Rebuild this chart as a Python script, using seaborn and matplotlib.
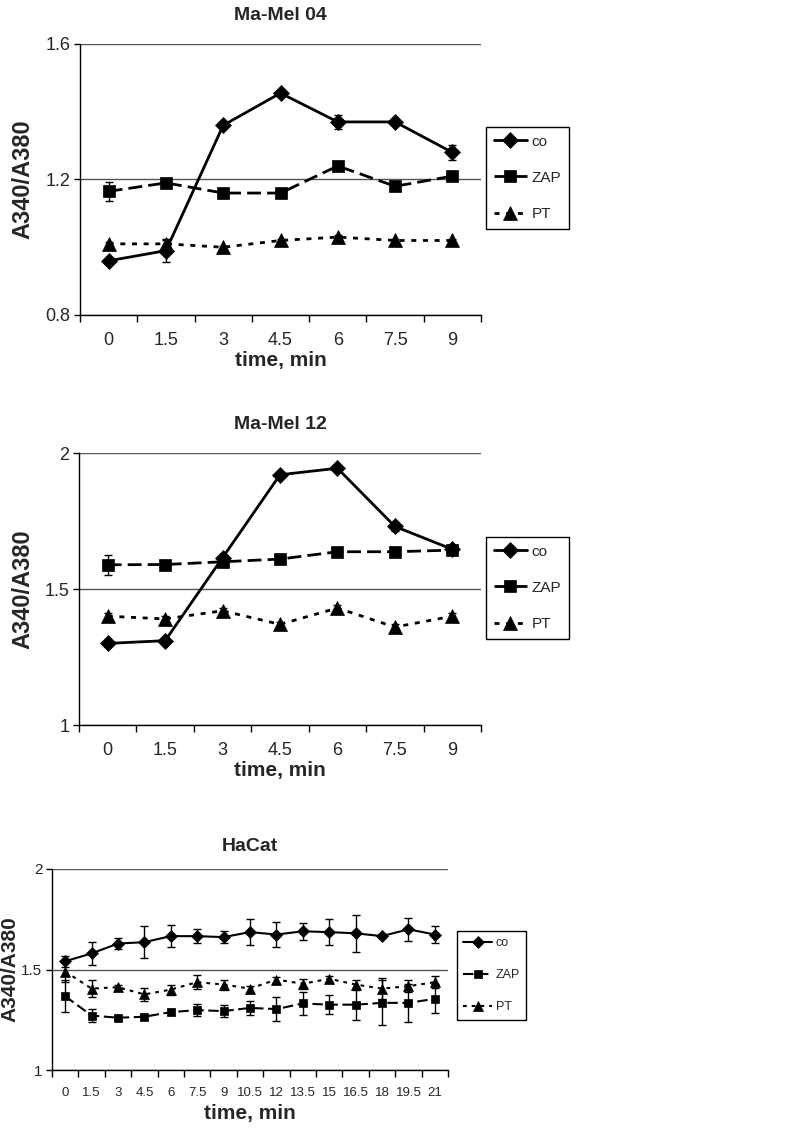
"""Calcium ratio A340/A380 time courses, three cell lines"""

import matplotlib
matplotlib.use("Agg")
import matplotlib.pyplot as plt
import numpy as np
import pandas as pd
import seaborn as sns

# --- data -------------------------------------------------------------
series = ["co", "ZAP", "PT"]

time_short = ["0", "1.5", "3", "4.5", "6", "7.5", "9"]
time_long = ["0", "1.5", "3", "4.5", "6", "7.5", "9", "10.5", "12",
             "13.5", "15", "16.5", "18", "19.5", "21"]

# Ma-Mel 04
mm04_co = [0.96, 0.99, 1.36, 1.455, 1.37, 1.37, 1.28]
mm04_co_err = [0.005, 0.033, 0.01, 0.01, 0.02, 0.005, 0.023]
mm04_zap = [1.165, 1.19, 1.16, 1.16, 1.24, 1.18, 1.21]
mm04_zap_err = [0.028, 0.005, 0.005, 0.005, 0.01, 0.005, 0.008]
mm04_pt = [1.01, 1.01, 1.0, 1.02, 1.03, 1.02, 1.02]
mm04_pt_err = [0.005, 0.01, 0.005, 0.005, 0.005, 0.005, 0.005]

# Ma-Mel 12
mm12_co = [1.30, 1.31, 1.615, 1.92, 1.944, 1.73, 1.646]
mm12_co_err = [0.01, 0.01, 0.01, 0.01, 0.01, 0.015, 0.01]
mm12_zap = [1.589, 1.59, 1.60, 1.61, 1.637, 1.637, 1.643]
mm12_zap_err = [0.037, 0.01, 0.01, 0.01, 0.01, 0.01, 0.01]
mm12_pt = [1.40, 1.39, 1.42, 1.37, 1.43, 1.36, 1.40]
mm12_pt_err = [0.01, 0.01, 0.01, 0.01, 0.01, 0.01, 0.01]

# HaCat
hacat_co = [1.541, 1.58, 1.629, 1.636, 1.666, 1.666, 1.661, 1.686, 1.674,
            1.69, 1.686, 1.68, 1.666, 1.70, 1.674]
hacat_co_err = [0.028, 0.058, 0.027, 0.079, 0.055, 0.035, 0.029, 0.065, 0.064,
                0.041, 0.065, 0.091, 0.01, 0.057, 0.043]
hacat_zap = [1.367, 1.271, 1.26, 1.265, 1.288, 1.298, 1.293, 1.309, 1.303,
             1.331, 1.325, 1.325, 1.334, 1.334, 1.354]
hacat_zap_err = [0.079, 0.033, 0.01, 0.01, 0.015, 0.029, 0.03, 0.036, 0.058,
                 0.058, 0.047, 0.078, 0.112, 0.095, 0.072]
hacat_pt = [1.49, 1.405, 1.412, 1.376, 1.40, 1.437, 1.425, 1.405, 1.45,
            1.429, 1.454, 1.425, 1.405, 1.417, 1.437]
hacat_pt_err = [0.05, 0.041, 0.01, 0.033, 0.025, 0.035, 0.025, 0.015, 0.015,
                0.025, 0.015, 0.025, 0.054, 0.03, 0.03]

# --- style ------------------------------------------------------------
sns.set_style("white")
plt.rcParams["font.family"] = ["Liberation Sans", "DejaVu Sans"]

markers = {"co": "D", "ZAP": "s", "PT": "^"}
msize = {"co": 1.0, "ZAP": 1.0, "PT": 1.15}
dashes = {"co": "-", "ZAP": (0, (5, 2.2)), "PT": (0, (1.8, 2.4))}

W, H = 793, 1138


def make_frame(labels, co, co_err, zap, zap_err, pt, pt_err):
    rows = []
    for name, vals, errs in [("co", co, co_err), ("ZAP", zap, zap_err), ("PT", pt, pt_err)]:
        for i, (v, e) in enumerate(zip(vals, errs)):
            rows.append({"pos": i, "time": labels[i], "series": name, "ratio": v, "err": e})
    return pd.DataFrame(rows)


def panel(fig, rect, df, labels, title, yticks, ylim, lw, ms, legend_anchor,
          xtick_fs, ytick_fs, title_pad, leg_fs, handlelen, leg_space, ylab_x, ylab_fs,
          tick_pad, xlab_pad):
    ax = fig.add_axes(rect)
    handles = []
    for name in series:
        d = df[df.series == name]
        ax.errorbar(d.pos, d.ratio, yerr=d.err, fmt="none", ecolor="black",
                    elinewidth=1.0, capsize=3, capthick=1.0, zorder=2)
        sns.lineplot(data=d, x="pos", y="ratio", ax=ax, color="black",
                     marker=markers[name], markersize=ms * msize[name],
                     mec="black", mew=0.5, linestyle=dashes[name], linewidth=lw,
                     errorbar=None, label=name, legend=False, zorder=3)
        handles.append(ax.lines[-1])

    n = len(labels)
    ax.set_xlim(-0.5, n - 0.5)
    ax.set_ylim(*ylim)
    ax.set_xticks(np.arange(n))
    ax.set_xticklabels(labels, fontsize=xtick_fs)
    ax.set_xticks(np.arange(n + 1) - 0.5, minor=True)
    ax.tick_params(axis="x", which="major", length=0, pad=tick_pad)
    ax.tick_params(axis="x", which="minor", length=5, width=1, direction="out",
                   bottom=True, color="black")
    ax.set_yticks(yticks)
    ax.set_yticklabels([f"{t:g}" for t in yticks], fontsize=ytick_fs)
    ax.tick_params(axis="y", length=4, width=1, direction="out", left=True,
                   color="black", pad=3)
    ax.grid(axis="y", color="#555555", linewidth=1.0)
    ax.grid(axis="x", visible=False)
    ax.set_axisbelow(True)
    for s in ["top", "right"]:
        ax.spines[s].set_visible(False)
    for s in ["left", "bottom"]:
        ax.spines[s].set_color("black")
        ax.spines[s].set_linewidth(1.0)

    ax.set_title(title, fontsize=14, fontweight="bold", pad=title_pad)
    ax.set_xlabel("time, min", fontsize=15, fontweight="bold", labelpad=xlab_pad)
    ax.set_ylabel("A340/A380", fontsize=ylab_fs, fontweight="bold")
    # label anchor = right edge of the rotated text
    ax.yaxis.set_label_coords(ylab_x, 0.5)

    leg = fig.legend(handles=handles, labels=series, loc="upper left",
                     bbox_to_anchor=legend_anchor, frameon=True, fancybox=False,
                     framealpha=1, edgecolor="black", fontsize=leg_fs,
                     handlelength=handlelen, borderpad=0.5, labelspacing=leg_space,
                     handletextpad=0.3, borderaxespad=0)
    leg.get_frame().set_linewidth(1.0)
    return ax


fig = plt.figure(figsize=(W / 100, H / 100), dpi=100)


def rect(left, top, right, bottom):
    return [left / W, 1 - bottom / H, (right - left) / W, (bottom - top) / H]


df04 = make_frame(time_short, mm04_co, mm04_co_err, mm04_zap, mm04_zap_err, mm04_pt, mm04_pt_err)
df12 = make_frame(time_short, mm12_co, mm12_co_err, mm12_zap, mm12_zap_err, mm12_pt, mm12_pt_err)
dfha = make_frame(time_long, hacat_co, hacat_co_err, hacat_zap, hacat_zap_err, hacat_pt, hacat_pt_err)

panel(fig, rect(80, 44, 481, 315), df04, time_short, "Ma-Mel 04", [0.8, 1.2, 1.6], (0.8, 1.6),
      2.0, 8.5, (486 / W, 1 - 127 / H), 13, 13, 17, 11, 2.2, 1.45,
      (34 - 80) / 401, 17, 12, 2)
panel(fig, rect(79, 453, 481, 725), df12, time_short, "Ma-Mel 12", [1, 1.5, 2], (1, 2),
      2.0, 8.5, (486 / W, 1 - 537 / H), 13, 13, 17, 11, 2.2, 1.45,
      (34 - 79) / 402, 17, 12, 2)
panel(fig, rect(52, 869, 448, 1070), dfha, time_long, "HaCat", [1, 1.5, 2], (1, 2),
      1.5, 6, (457 / W, 1 - 931 / H), 9.5, 11, 13, 9, 2.3, 1.6,
      (19 - 52) / 396, 15, 12, 4)

fig.savefig("out.png", dpi=100)
